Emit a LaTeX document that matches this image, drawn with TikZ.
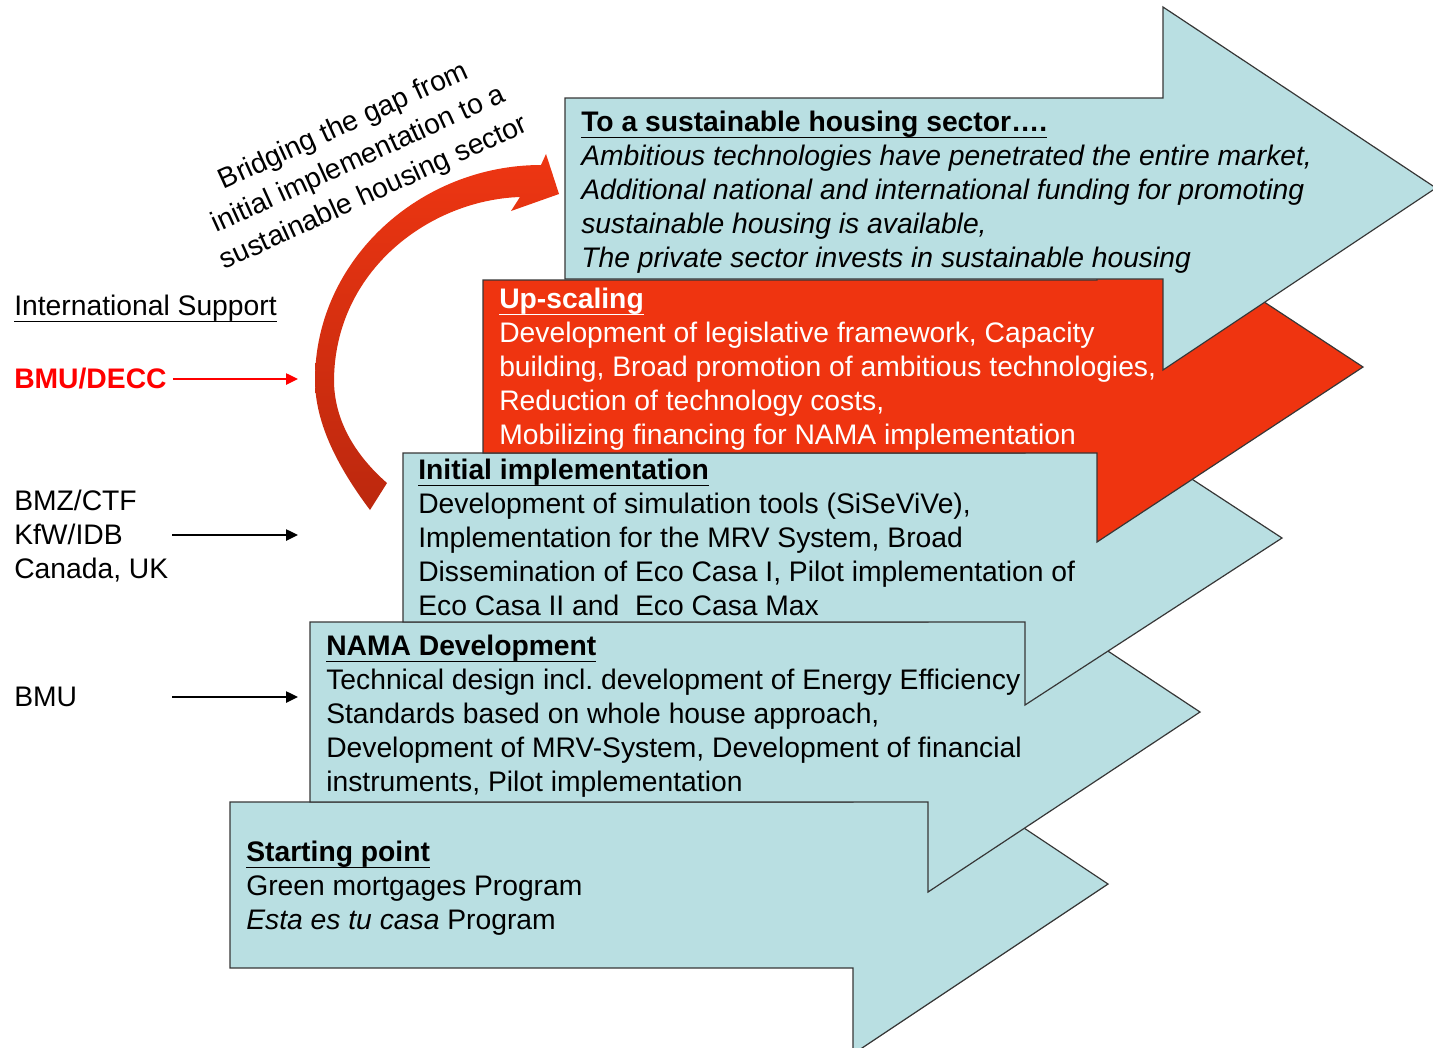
\documentclass[tikz,border=0pt]{standalone}
\usepackage{fontspec}
\setmainfont{Liberation Sans}
\usetikzlibrary{arrows.meta}
\frenchspacing

\definecolor{stageblue}{RGB}{185,223,226}
\definecolor{stagered}{RGB}{239,52,16}
\definecolor{edgegray}{RGB}{55,55,55}
\definecolor{bendtop}{RGB}{238,54,18}
\definecolor{bendbot}{RGB}{188,40,14}
\definecolor{bmured}{RGB}{255,0,0}
\newcommand{\stagefont}{\fontsize{21.2}{25.5}\selectfont}
\newcommand{\bridgefont}{\fontsize{21.2}{27.5}\selectfont}
% underline with a fixed depth below the baseline
\newcommand{\ubar}[1]{\leavevmode\setbox0\hbox{#1}\rlap{\vrule width\wd0 height -4.3pt depth 5.4pt}\box0}

\tikzset{
  stage/.style={draw=edgegray, line width=0.9pt, fill=stageblue},
  upstage/.style={stage, fill=stagered},
  stxt/.style={anchor=base west, inner sep=0pt, font=\stagefont},
  shead/.style={stxt, font=\stagefont\bfseries},
  feed/.style={line width=1.1pt, -{Triangle[length=9pt,width=8.5pt]}},
}

\begin{document}
\begin{tikzpicture}[x=0.75pt,y=0.75pt,yscale=-1,xscale=1]
\useasboundingbox (0,0) rectangle (1433,1047);

%Shape: Right Arrow (starting point)
\draw [stage] (230,802) -- (853,802) -- (853,714) -- (1108,884) -- (853,1054) -- (853,968) -- (230,968) -- cycle ;
% Text Node
\node [shead] (start) at (246,861) {\ubar{Starting point}};
\node [stxt] (start1) at (246,895) {Green mortgages Program};
\node [stxt] (start2) at (246,929) {\textit{Esta es tu casa} Program};

%Shape: Right Arrow (NAMA development)
\draw [stage] (310,622) -- (928,622) -- (928,532) -- (1200,712) -- (928,892) -- (928,802) -- (310,802) -- cycle ;
% Text Node
\node [shead] (nama) at (326,655) {\ubar{NAMA Development}};
\node [stxt] (nama1) at (326,689) {Technical design incl. development of Energy Efficiency};
\node [stxt] (nama2) at (326,723) {Standards based on whole house approach,};
\node [stxt] (nama3) at (326,757) {Development of MRV-System, Development of financial};
\node [stxt] (nama4) at (326,791) {instruments, Pilot implementation};

%Shape: Right Arrow (initial implementation)
\draw [stage] (403,453) -- (1025,453) -- (1025,370) -- (1282,538) -- (1025,705) -- (1025,622) -- (403,622) -- cycle ;
% Text Node
\node [shead] (init) at (418,479) {\ubar{Initial implementation}};
\node [stxt] (init1) at (418,513) {Development of simulation tools (SiSeViVe),};
\node [stxt] (init2) at (418,547) {Implementation for the MRV System, Broad};
\node [stxt] (init3) at (418,581) {Dissemination of Eco Casa I, Pilot implementation of};
\node [stxt] (init4) at (418,615) {Eco Casa II and~ Eco Casa Max};

%Shape: Right Arrow (up-scaling)
\draw [upstage] (483,280) -- (1097,280) -- (1097,192) -- (1363,367) -- (1097,542) -- (1097,453) -- (483,453) -- cycle ;
% Text Node
\node [shead, text=white] (upsc) at (499,308) {\ubar{Up-scaling}};
\node [stxt, text=white] (upsc1) at (499,342) {Development of legislative framework, Capacity};
\node [stxt, text=white] (upsc2) at (499,376) {building, Broad promotion of ambitious technologies,};
\node [stxt, text=white] (upsc3) at (499,410) {Reduction of technology costs,};
\node [stxt, text=white] (upsc4) at (499,444) {Mobilizing financing for NAMA implementation};

%Shape: Right Arrow (sustainable housing sector)
\draw [stage] (565,98) -- (1163,98) -- (1163,7) -- (1436,188) -- (1163,370) -- (1163,279) -- (565,279) -- cycle ;
% Text Node
\node [shead] (goal) at (581,131) {\ubar{To a sustainable housing sector….}};
\node [stxt] (goal1) at (581,165) {\itshape Ambitious technologies have penetrated the entire market,};
\node [stxt] (goal2) at (581,199) {\itshape Additional national and international funding for promoting};
\node [stxt] (goal3) at (581,233) {\itshape sustainable housing is available,};
\node [stxt] (goal4) at (581,267) {\itshape The private sector invests in sustainable housing};

%Curve Lines: bridging arrow
\path [top color=bendtop, bottom color=bendbot] (370,510) .. controls (340,470) and (315,425) .. (315,380) .. controls (315,260) and (420,165) .. (541,165) -- (546,154) -- (559,194) -- (511,211) -- (520,197) .. controls (430,200) and (335,270) .. (334,380) .. controls (334,420) and (355,455) .. (387,483) -- cycle ;
% Text Node
\node [font=\bridgefont, align=center, rotate=24.5, inner sep=0pt] (bridge) at (359,160) {Bridging the gap from\\initial implementation to a\\sustainable housing sector};

% Text Node: supporters
\node [stxt] (intl) at (14,315) {\ubar{International Support}};
\node [shead, text=bmured] (decc) at (14,388) {BMU/DECC};
\node [stxt] (bmz) at (14,510) {BMZ/CTF};
\node [stxt] (kfw) at (14,544) {KfW/IDB};
\node [stxt] (canada) at (14,578) {Canada, UK};
\node [stxt] (bmu) at (14,706) {BMU};

%Straight Lines
\coordinate (decc end) at (298,379);
\coordinate (kfw start) at (172,535);
\coordinate (kfw end) at (298,535);
\coordinate (bmu start) at (172,697);
\coordinate (bmu end) at (298,697);
\draw [feed, bmured] ([xshift=4.5pt]decc.east |- decc end) -- (decc end) ;
\draw [feed] (kfw start) -- (kfw end) ;
\draw [feed] (bmu start) -- (bmu end) ;

\end{tikzpicture}
\end{document}
